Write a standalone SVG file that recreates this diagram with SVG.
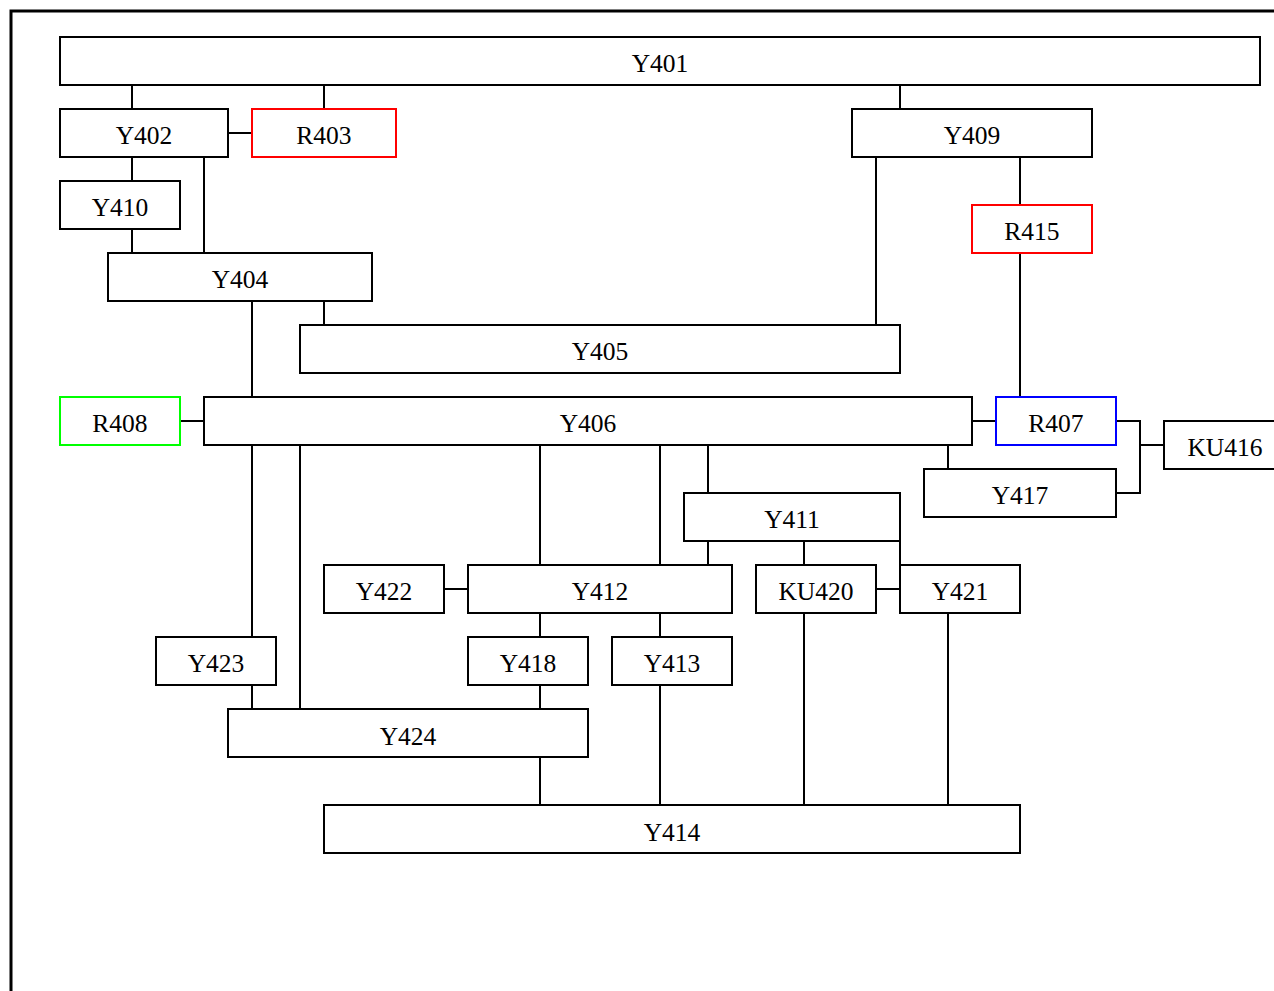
<svg xmlns="http://www.w3.org/2000/svg" width="1274" height="991" viewBox="0 0 1274 991">
<style>
.n rect{fill:#fff;stroke:#000;stroke-width:2}
.n text{font-family:"Liberation Serif","Times New Roman",serif;font-size:25.5px;text-anchor:middle;fill:#000}
.red rect{stroke:#f00}
.green rect{stroke:#0f0}
.blue rect{stroke:#00f}
.c path{fill:none;stroke:#000;stroke-width:2}
</style>
<rect x="0" y="0" width="1274" height="991" fill="#fff"/>
<rect x="11" y="11" width="1300" height="1000" fill="none" stroke="#000" stroke-width="3"/>
<g class="c" id="connectors">
<path d="M132 85V109M324 85V109M900 85V109"/>
<path d="M228 133H252"/>
<path d="M132 157V181M204 157V253M132 229V253"/>
<path d="M876 157V325M1020 157V205M1020 253V397"/>
<path d="M324 301V325M252 301V397"/>
<path d="M180 421H204M972 421H996"/>
<path d="M1116 421H1140V493H1116M1140 445H1164"/>
<path d="M948 445V469M708 445V493M540 445V565M660 445V565M252 445V637M300 445V709"/>
<path d="M708 541V565M804 541V565M900 541V565"/>
<path d="M876 589H900M444 589H468"/>
<path d="M540 613V637M660 613V637"/>
<path d="M252 685V709M540 685V709M540 757V805M660 685V805M804 613V805M948 613V805"/>
</g>
<g class="n" id="Y401"><rect x="60" y="37" width="1200" height="48"/><text x="660" y="72">Y401</text></g>
<g class="n" id="Y402"><rect x="60" y="109" width="168" height="48"/><text x="144" y="144">Y402</text></g>
<g class="n red" id="R403"><rect x="252" y="109" width="144" height="48"/><text x="324" y="144">R403</text></g>
<g class="n" id="Y409"><rect x="852" y="109" width="240" height="48"/><text x="972" y="144">Y409</text></g>
<g class="n" id="Y410"><rect x="60" y="181" width="120" height="48"/><text x="120" y="216">Y410</text></g>
<g class="n red" id="R415"><rect x="972" y="205" width="120" height="48"/><text x="1032" y="240">R415</text></g>
<g class="n" id="Y404"><rect x="108" y="253" width="264" height="48"/><text x="240" y="288">Y404</text></g>
<g class="n" id="Y405"><rect x="300" y="325" width="600" height="48"/><text x="600" y="360">Y405</text></g>
<g class="n green" id="R408"><rect x="60" y="397" width="120" height="48"/><text x="120" y="432">R408</text></g>
<g class="n" id="Y406"><rect x="204" y="397" width="768" height="48"/><text x="588" y="432">Y406</text></g>
<g class="n blue" id="R407"><rect x="996" y="397" width="120" height="48"/><text x="1056" y="432">R407</text></g>
<g class="n" id="KU416"><rect x="1164" y="421" width="130" height="48"/><text x="1225" y="456">KU416</text></g>
<g class="n" id="Y417"><rect x="924" y="469" width="192" height="48"/><text x="1020" y="504">Y417</text></g>
<g class="n" id="Y411"><rect x="684" y="493" width="216" height="48"/><text x="792" y="528">Y411</text></g>
<g class="n" id="Y422"><rect x="324" y="565" width="120" height="48"/><text x="384" y="600">Y422</text></g>
<g class="n" id="Y412"><rect x="468" y="565" width="264" height="48"/><text x="600" y="600">Y412</text></g>
<g class="n" id="KU420"><rect x="756" y="565" width="120" height="48"/><text x="816" y="600">KU420</text></g>
<g class="n" id="Y421"><rect x="900" y="565" width="120" height="48"/><text x="960" y="600">Y421</text></g>
<g class="n" id="Y423"><rect x="156" y="637" width="120" height="48"/><text x="216" y="672">Y423</text></g>
<g class="n" id="Y418"><rect x="468" y="637" width="120" height="48"/><text x="528" y="672">Y418</text></g>
<g class="n" id="Y413"><rect x="612" y="637" width="120" height="48"/><text x="672" y="672">Y413</text></g>
<g class="n" id="Y424"><rect x="228" y="709" width="360" height="48"/><text x="408" y="745">Y424</text></g>
<g class="n" id="Y414"><rect x="324" y="805" width="696" height="48"/><text x="672" y="841">Y414</text></g>
</svg>
